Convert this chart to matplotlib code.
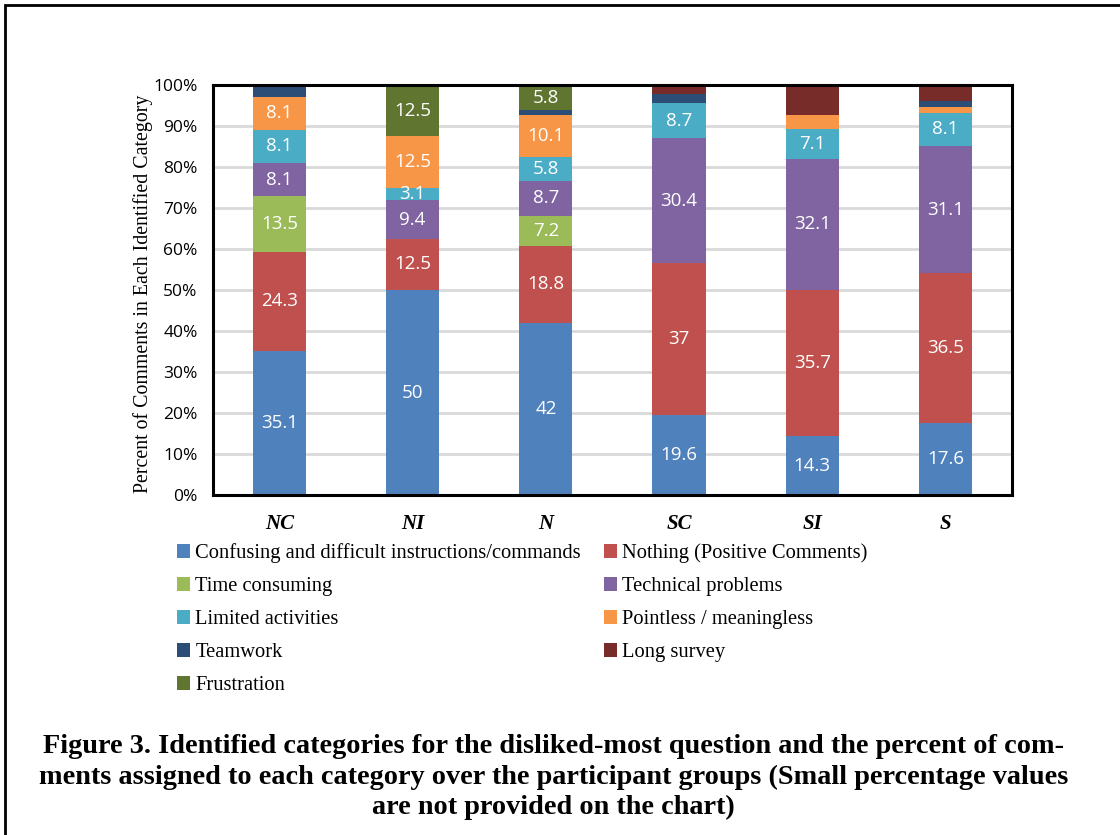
import matplotlib
matplotlib.use('Agg')
from matplotlib import pyplot as plt
from matplotlib.patches import Rectangle
import numpy as np

# Participant groups and comment categories
groups = ['NC', 'NI', 'N', 'SC', 'SI', 'S']
categories = ['Confusing and difficult instructions/commands',
              'Nothing (Positive Comments)',
              'Time consuming',
              'Technical problems',
              'Limited activities',
              'Pointless / meaningless',
              'Teamwork',
              'Long survey',
              'Frustration']

# Percent of comments per category (rows follow categories, columns follow groups)
confusing  = [35.1, 50.0, 42.0, 19.6, 14.3, 17.6]
nothing    = [24.3, 12.5, 18.8, 37.0, 35.7, 36.5]
time_cons  = [13.5, 0.0, 7.2, 0.0, 0.0, 0.0]
technical  = [8.1, 9.4, 8.7, 30.4, 32.1, 31.1]
limited    = [8.1, 3.1, 5.8, 8.7, 7.1, 8.1]
pointless  = [8.1, 12.5, 10.1, 0.0, 3.6, 1.4]
teamwork   = [2.7, 0.0, 1.4, 2.2, 0.0, 1.4]
long_surv  = [0.0, 0.0, 0.0, 2.2, 7.1, 4.1]
frustrated = [0.0, 12.5, 5.8, 0.0, 0.0, 0.0]

series = [confusing, nothing, time_cons, technical, limited,
          pointless, teamwork, long_surv, frustrated]

colors = ['#4F81BD', '#C0504D', '#9BBB59', '#8064A2', '#4BACC6',
          '#F79646', '#2C4D75', '#772C2A', '#5F7530']

# small values (and the teamwork / long survey series) are left without a label
min_label = 3.0
unlabelled = ['Teamwork', 'Long survey']
hidden = [('SI', 'Pointless / meaningless')]

caption = ['Figure 3. Identified categories for the disliked-most question and the percent of com-',
           'ments assigned to each category over the participant groups (Small percentage values',
           'are not provided on the chart)']

fig = plt.figure(figsize=(11.2, 8.35), dpi=100)
ax = fig.add_axes([0.190, 0.4072, 0.7136, 0.4908])

x = np.arange(len(groups))
bottom = np.zeros(len(groups))
bars = []
for name, vals, col in zip(categories, series, colors):
    vals = np.array(vals) / 100
    b = ax.bar(x, vals, 0.40, bottom=bottom, color=col, label=name, zorder=2)
    bars.append(b)
    for i, v in enumerate(vals):
        if (v * 100 >= min_label and name not in unlabelled
                and (groups[i], name) not in hidden):
            ax.text(x[i], bottom[i] + v / 2, f'{v * 100:g}', ha='center', va='center',
                    color='white', fontsize=13.5, family='Open Sans', zorder=3)
    bottom += vals

ax.set_xlim(-0.5, len(groups) - 0.5)
ax.set_ylim(0, 1)
ax.set_yticks(np.arange(0, 1.01, 0.1))
ax.set_yticklabels([f'{int(round(t * 100))}%' for t in np.arange(0, 1.01, 0.1)],
                   family='Open Sans', fontsize=12.5)
ax.set_xticks(x)
ax.set_xticklabels(groups, family='Liberation Serif', fontsize=15,
                   fontweight='bold', fontstyle='italic')
ax.tick_params(length=0)
ax.tick_params(axis='x', pad=14)
ax.tick_params(axis='y', pad=11)
ax.grid(axis='y', color='#d9d9d9', linewidth=2, zorder=0)
for s in ax.spines.values():
    s.set_linewidth(2.2)
    s.set_color('black')
ax.set_ylabel('Percent of Comments in Each Identified Category',
              family='Liberation Serif', fontsize=14.3)
ax.yaxis.set_label_coords(-0.075, 0.49)

# legend in two columns, reading across the rows
order = [0, 2, 4, 6, 8, 1, 3, 5, 7]
leg = fig.legend([bars[i] for i in order], [categories[i] for i in order],
                 ncol=2, loc='upper left', bbox_to_anchor=(0.151, 0.359),
                 frameon=False, prop={'family': 'Liberation Serif', 'size': 14.8},
                 handlelength=0.62, handleheight=0.62, handletextpad=0.25,
                 columnspacing=1.15, labelspacing=0.68, borderaxespad=0)

for k, line in enumerate(caption):
    fig.text(0.494, 0.106 - k * 0.0365, line, ha='center', va='center',
             family='Liberation Serif', fontweight='bold', fontsize=20.3)

# page border around the figure
fig.patches.append(Rectangle((5 / 1120, -0.05), 1.2, (835 - 5) / 835 + 0.05,
                             transform=fig.transFigure, fill=False,
                             edgecolor='black', linewidth=2))

fig.savefig('out.png', dpi=100)
